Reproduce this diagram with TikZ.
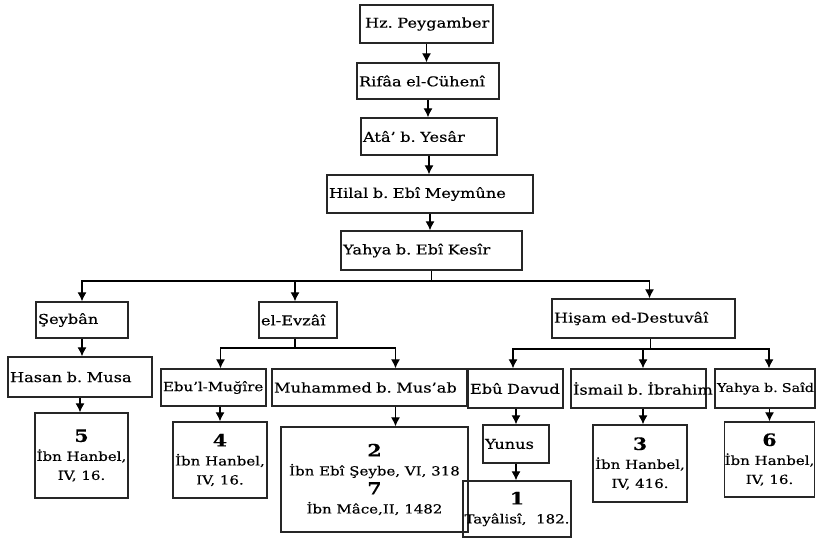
\documentclass[tikz,border=0pt]{standalone}
\usepackage{fontspec}
\setmainfont{DejaVu Serif}[FakeStretch=1.2,FakeBold=0.4]
\usetikzlibrary{arrows.meta}

\tikzset{
  box/.style={draw=black!85, line width=1.4pt, inner xsep=2pt, inner ysep=0pt,
    align=left, font=\fontsize{13.5}{15}\selectfont,
    execute at begin node={\hbox\bgroup}, execute at end node={\egroup}},
  refbox/.style={draw=black!85, line width=1.4pt, inner sep=0pt, align=center,
    font=\fontsize{12.5}{19}\selectfont},
  arr/.style={-{Latex[length=9pt,width=9pt]}, line width=1.1pt},
  link/.style={line width=1.1pt},
}
\newcommand{\refno}[1]{{\fontsize{17}{19}\selectfont\bfseries #1}}

\begin{document}
\frenchspacing
\begin{tikzpicture}[x=1pt,y=-1pt]
  \useasboundingbox (0,0) rectangle (817,538);

  % chain
  \node[box, text width=129pt, minimum height=38pt] (hz) at (426.5,24) {\hspace{3pt}Hz. Peygamber};
  \node[box, text width=138pt, minimum height=36pt] (rifaa) at (428,81) {Rifâa el-Cühenî};
  \node[box, text width=132pt, minimum height=37pt] (ata) at (429,136.5) {Atâ’ b. Yesâr};
  \node[box, text width=202pt, minimum height=38pt] (hilal) at (430,194) {Hilal b. Ebî Meymûne};
  \node[box, text width=177pt, minimum height=39pt] (yahya) at (431.5,250.5) {Yahya b. Ebî Kesîr};

  \draw[arr] (hz.south) -- (hz.south |- rifaa.north);
  \draw[arr] (rifaa.south) -- (rifaa.south |- ata.north);
  \draw[arr] (ata.south) -- (ata.south |- hilal.north);
  \draw[arr] (hilal.south) -- (hilal.south |- yahya.north);

  % first branching
  \node[box, text width=88pt, minimum height=36pt] (seyban) at (82,320) {Şeybân};
  \node[box, text width=74pt, minimum height=36pt] (evzai) at (298,320) {el-Evzâî};
  \node[box, text width=179pt, minimum height=39pt] (hisam) at (643.5,318.5) {Hişam ed-Destuvâî};

  \coordinate (yb) at (yahya.south |- 0,281);
  \draw[link] (yahya.south) -- (yb);
  \draw[arr] (yb) -| (seyban.north);
  \draw[arr] (yb) -| ([xshift=-3pt]evzai.north);
  \draw[arr] (yb) -| ([xshift=6pt]hisam.north);

  % Seyban
  \node[box, text width=140pt, minimum height=40pt] (hasan) at (80,377) {Hasan b. Musa};
  \node[refbox, minimum width=93pt, minimum height=85pt] (n5) at (81.5,455.5)
    {\refno{5}\\İbn Hanbel,\\IV, 16.};
  \draw[arr] (seyban.south) -- (seyban.south |- hasan.north);
  \draw[arr] (hasan.south) -- (hasan.south |- n5.north);

  % el-Evzai
  \node[box, text width=101pt, minimum height=37pt, font=\fontsize{12.5}{14}\selectfont] (mugire) at (213.5,387.5) {Ebu'l-Muğîre};
  \node[box, text width=191pt, minimum height=37pt] (muhammed) at (369.5,387.5) {Muhammed b. Mus’ab};
  \node[refbox, minimum width=94pt, minimum height=76pt] (n4) at (220,460)
    {\refno{4}\\İbn Hanbel,\\IV, 16.};
  \node[refbox, minimum width=187pt, minimum height=105pt] (n27) at (374.5,479.5)
    {\refno{2}\\İbn Ebî Şeybe, VI, 318\\\refno{7}\\İbn Mâce,II, 1482};

  \coordinate (eb) at ([xshift=-3pt]evzai.south |- 0,348);
  \draw[link] ([xshift=-3pt]evzai.south) -- (eb);
  \draw[arr] (eb) -| ([xshift=7pt]mugire.north);
  \draw[arr] (eb) -| ([xshift=26pt]muhammed.north);
  \draw[arr] (n4.north |- mugire.south) -- (n4.north);
  \draw[arr] ([xshift=26pt]muhammed.south) -- ([xshift=26pt]muhammed.south |- n27.north);

  % Hisam
  \node[box, text width=91pt, minimum height=39pt] (davud) at (515.5,388.5) {Ebû Davud};
  \node[box, text width=131pt, minimum height=39pt] (ismail) at (638.5,388.5) {İsmail b. İbrahim};
  \node[box, text width=96pt, minimum height=39pt, font=\fontsize{12}{14}\selectfont] (said) at (765,388.5) {Yahya b. Saîd};
  \node[box, text width=62pt, minimum height=38pt] (yunus) at (516,444) {Yunus};
  \node[refbox, minimum width=108pt, minimum height=56pt] (n1) at (517,509)
    {\refno{1}\\Tayâlisî,\ \ 182.};
  \node[refbox, minimum width=94pt, minimum height=77pt] (n3) at (640,463.5)
    {\refno{3}\\İbn Hanbel,\\IV, 416.};
  \node[refbox, minimum width=90pt, minimum height=75pt] (n6) at (769.5,459.5)
    {\refno{6}\\İbn Hanbel,\\IV, 16.};

  \coordinate (hb) at ([xshift=7pt]hisam.south |- 0,349);
  \draw[link] ([xshift=7pt]hisam.south) -- (hb);
  \draw[arr] (hb) -| ([xshift=-2.5pt]davud.north);
  \draw[arr] (hb) -| ([xshift=4.5pt]ismail.north);
  \draw[arr] (hb) -| ([xshift=4pt]said.north);
  \draw[arr] (yunus.north |- davud.south) -- (yunus.north);
  \draw[arr] (yunus.south) -- (yunus.south |- n1.north);
  \draw[arr] ([xshift=4.5pt]ismail.south) -- ([xshift=4.5pt]ismail.south |- n3.north);
  \draw[arr] (n6.north |- said.south) -- (n6.north);
\end{tikzpicture}
\end{document}
